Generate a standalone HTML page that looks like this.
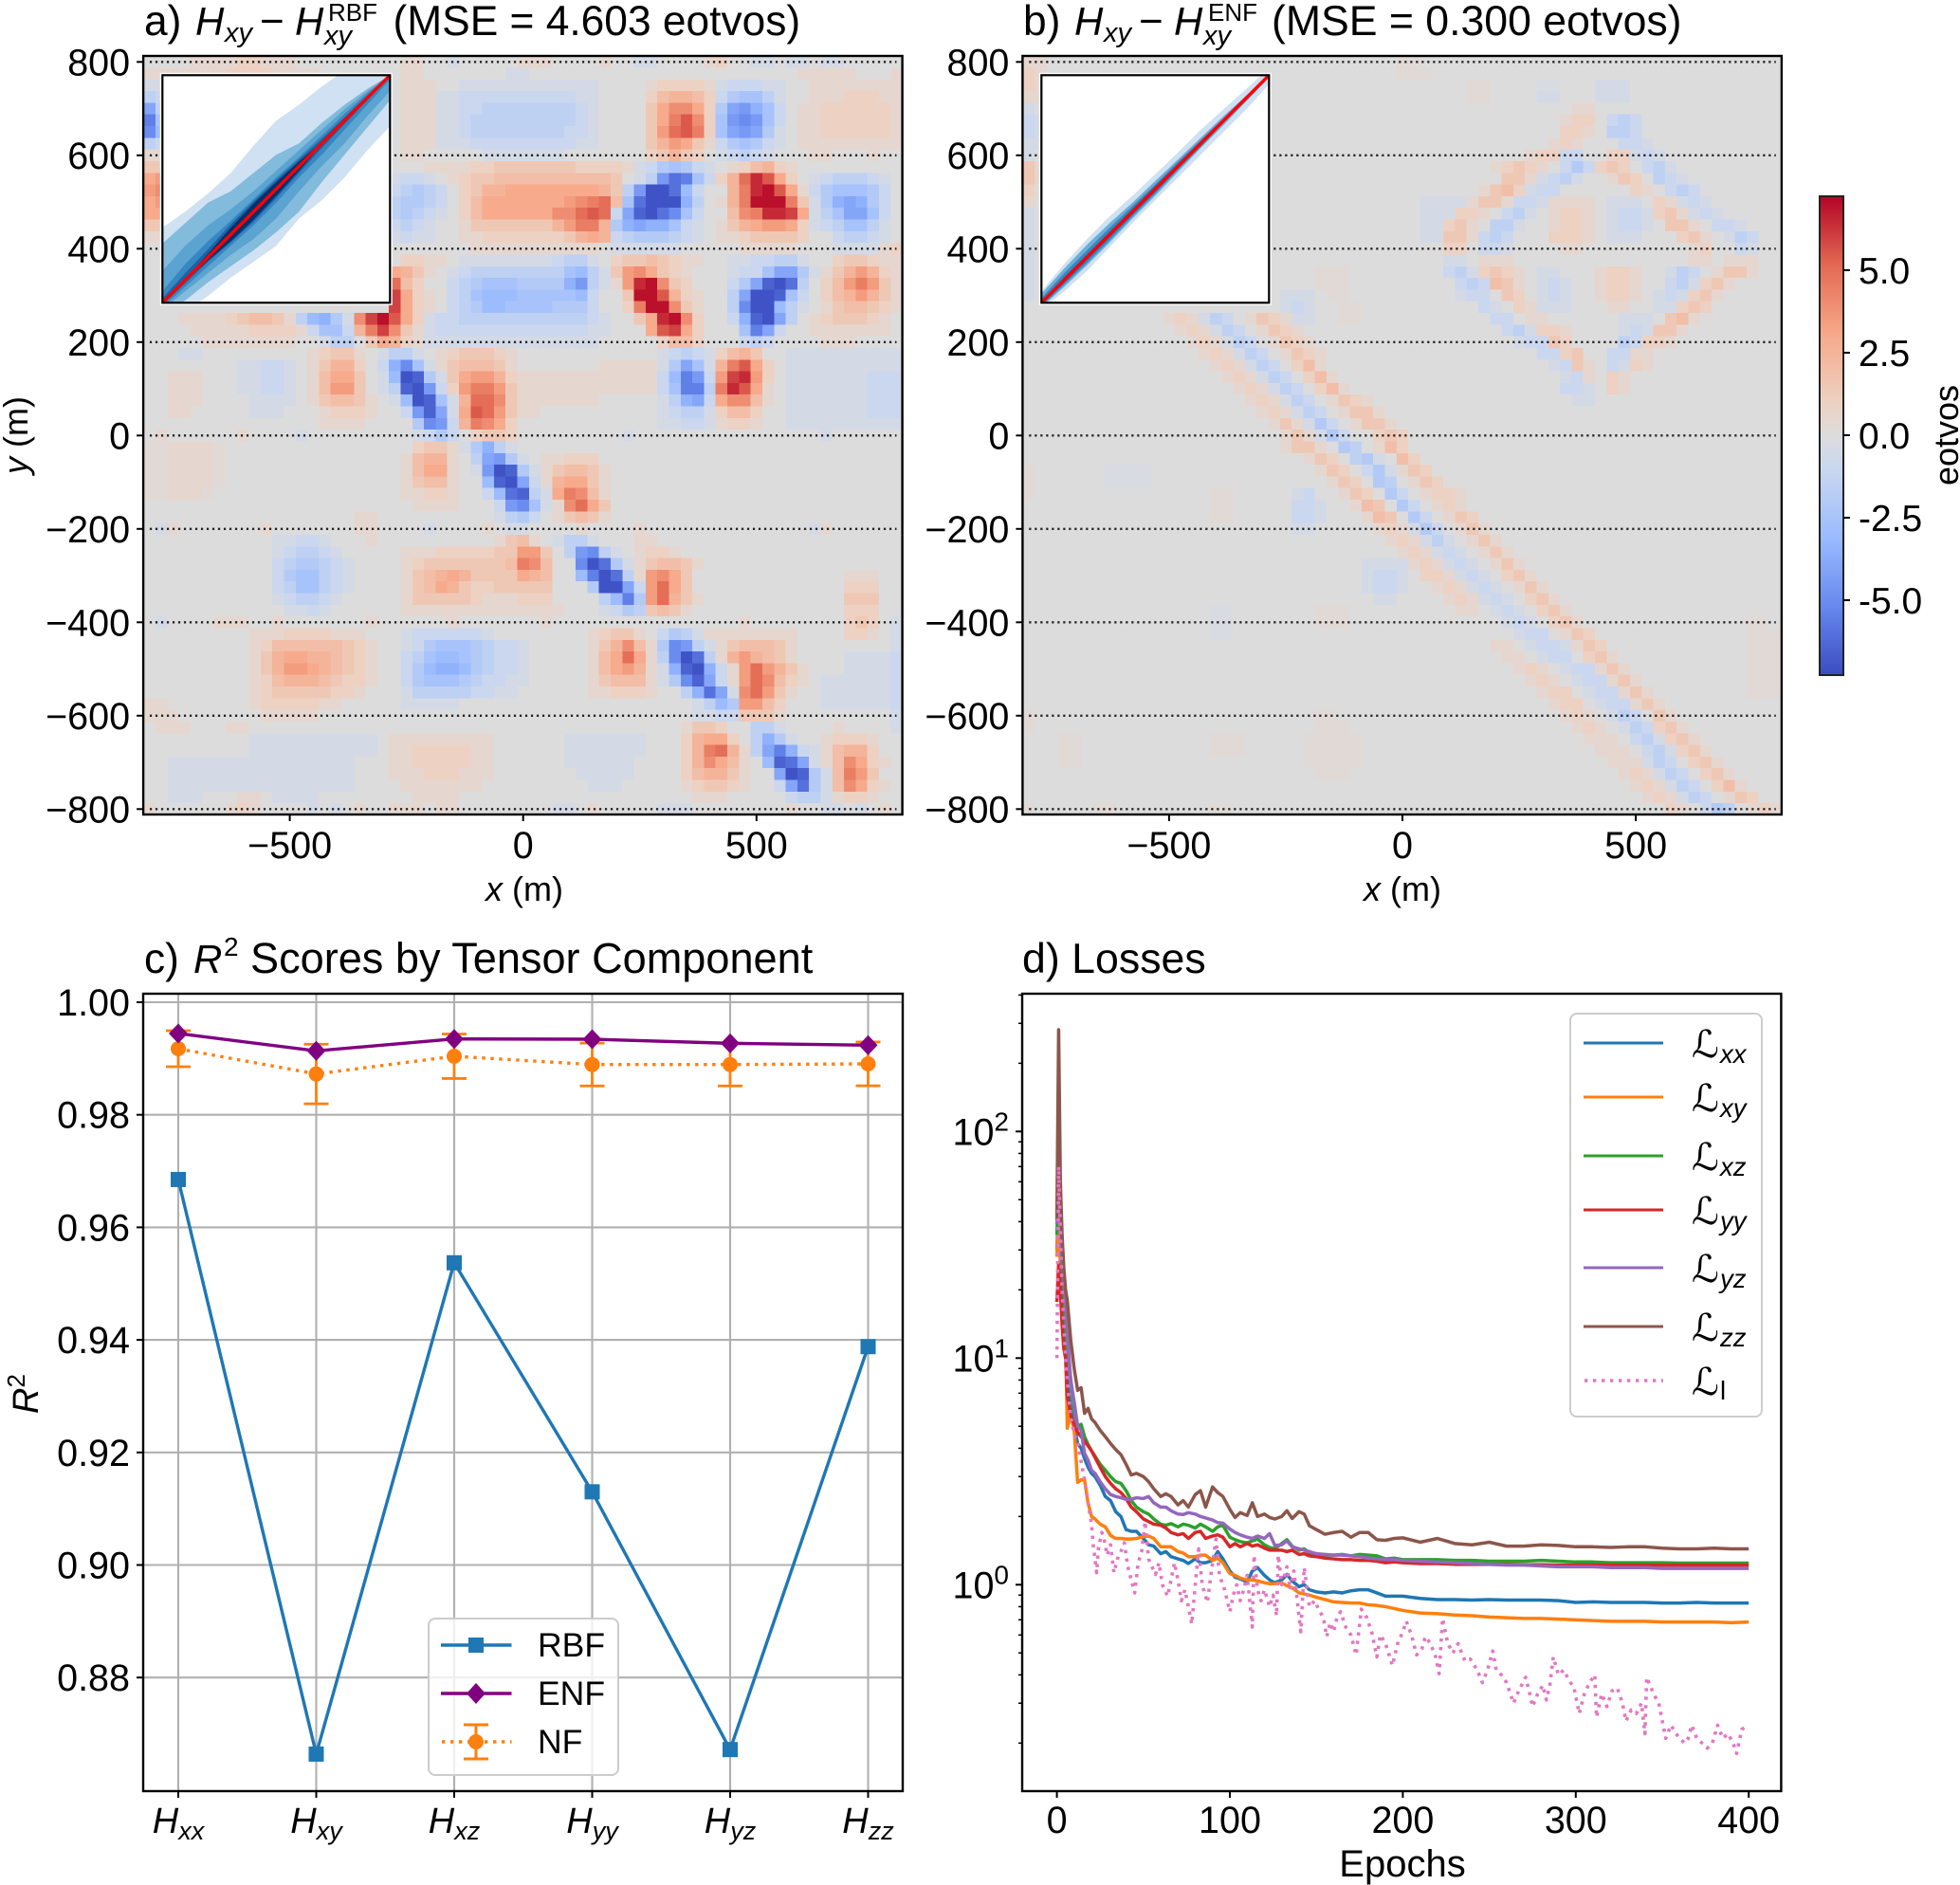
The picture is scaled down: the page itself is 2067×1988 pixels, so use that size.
<!DOCTYPE html>
<html lang="en">
<head>
<meta charset="utf-8">
<title>Gravity gradient field residuals and training losses</title>
<style>
html,body{margin:0;padding:0;background:#fff;}
svg{display:block;}
text{font-family:"Liberation Sans",sans-serif;fill:#000;}
.it{font-style:italic;}
.sc{font-family:"DejaVu Serif","DejaVu Sans",serif;font-style:italic;}
</style>
</head>
<body>
<svg id="figure" xmlns="http://www.w3.org/2000/svg" width="2067" height="1988" viewBox="0 0 2067 1988">
<defs>
<clipPath id="clip-d"><rect x="1078" y="1048" width="800" height="841"/></clipPath>
<clipPath id="clip-c"><rect x="151" y="1048" width="801" height="841"/></clipPath>
<linearGradient id="cb-gradient" x1="0" y1="0" x2="0" y2="1">
<stop offset="0" stop-color="#b40426"/><stop offset="0.143" stop-color="#e26952"/><stop offset="0.286" stop-color="#f7a889"/><stop offset="0.429" stop-color="#edd1c2"/><stop offset="0.5" stop-color="#dddcdc"/><stop offset="0.571" stop-color="#c9d7f0"/><stop offset="0.714" stop-color="#9abbff"/><stop offset="0.857" stop-color="#6788ee"/><stop offset="1" stop-color="#3b4cc0"/>
</linearGradient>
</defs>

<g id="panel-a"></g>
<g id="panel-b"></g>
<g id="panel-c"></g>
<g id="panel-d"></g>
<g id="colorbar">
<rect x="1919" y="207" width="25" height="505" fill="url(#cb-gradient)" stroke="#222" stroke-width="2"/>
<text transform="translate(2065,459) rotate(-90)" text-anchor="middle" font-size="36">eotvos</text>
</g>

<g>
<text x="152" y="37" font-size="44.3">a)</text>
<text class="it" x="206" y="37" font-size="42">H</text>
<text class="it" x="237" y="44" font-size="29">xy</text>
<text x="274" y="37" font-size="44">−</text>
<text class="it" x="311" y="37" font-size="42">H</text>
<text class="it" x="342" y="47" font-size="29">xy</text>
<text x="346" y="22" font-size="26">RBF</text>
<text x="414.5" y="37" font-size="44.3">(MSE = 4.603 eotvos)</text>
</g>
<g>
<text x="1079" y="37" font-size="44.3">b)</text>
<text class="it" x="1133" y="37" font-size="42">H</text>
<text class="it" x="1164" y="44" font-size="29">xy</text>
<text x="1201" y="37" font-size="44">−</text>
<text class="it" x="1238" y="37" font-size="42">H</text>
<text class="it" x="1269" y="47" font-size="29">xy</text>
<text x="1274" y="22" font-size="26">ENF</text>
<text x="1341" y="37" font-size="44.6">(MSE = 0.300 eotvos)</text>
</g>
<g>
<text x="152" y="1026" font-size="44.3">c)</text>
<text class="it" x="204" y="1026" font-size="42">R</text>
<text x="236" y="1008" font-size="28">2</text>
<text x="264" y="1026" font-size="45.1">Scores by Tensor Component</text>
</g>
<text x="1078" y="1026" font-size="44.7">d) Losses</text>

<g><text x="553" y="950" text-anchor="middle" font-size="36"><tspan class="it">x</tspan> (m)</text></g>
<g><text x="1479" y="950" text-anchor="middle" font-size="36"><tspan class="it">x</tspan> (m)</text></g>
<g><text transform="translate(29,459) rotate(-90)" text-anchor="middle" font-size="36"><tspan class="it">y</tspan> (m)</text></g>
<g><text transform="translate(40,1470) rotate(-90)" text-anchor="middle" font-size="38"><tspan class="it">R</tspan><tspan font-size="26" dy="-14">2</tspan></text></g>
<text x="1479" y="1979" text-anchor="middle" font-size="40">Epochs</text>

<g id="legend-c">
<rect x="452" y="1707" width="200" height="165" rx="7" fill="#fff" fill-opacity="0.8" stroke="#ccc" stroke-width="2"/>
<g>
<line x1="465" x2="539.5" y1="1735" y2="1735" stroke="#1f77b4" stroke-width="3.4"/>
<rect x="494" y="1727" width="16" height="16" fill="#1f77b4"/>
<text x="567" y="1747" font-size="35.5">RBF</text>
</g>
<g>
<line x1="465" x2="539.5" y1="1786" y2="1786" stroke="#800080" stroke-width="3.4"/>
<polygon points="502,1775 512,1786 502,1797 492,1786" fill="#800080"/>
<text x="567" y="1798" font-size="35.5">ENF</text>
</g>
<g>
<line x1="466" x2="539.5" y1="1837" y2="1837" stroke="#ff7f0e" stroke-width="3.4" stroke-dasharray="3.4 5.6"/>
<line x1="502" x2="502" y1="1819" y2="1855" stroke="#ff7f0e" stroke-width="3"/>
<line x1="489" x2="515" y1="1819" y2="1819" stroke="#ff7f0e" stroke-width="3"/>
<line x1="489" x2="515" y1="1855" y2="1855" stroke="#ff7f0e" stroke-width="3"/>
<circle cx="502" cy="1837" r="8" fill="#ff7f0e"/>
<text x="567" y="1849" font-size="35.5">NF</text>
</g>
</g>

<g id="legend-d">
<rect x="1656" y="1069" width="202" height="425" rx="7" fill="#fff" fill-opacity="0.8" stroke="#ccc" stroke-width="2"/>
<g><line x1="1670" x2="1754" y1="1100" y2="1100" stroke="#1f77b4" stroke-width="3"/><text class="sc" x="1784" y="1115" font-size="40">ℒ</text><text class="it" x="1814" y="1121" font-size="27.5">xx</text></g>
<g><line x1="1670" x2="1754" y1="1157" y2="1157" stroke="#ff7f0e" stroke-width="3"/><text class="sc" x="1784" y="1172" font-size="40">ℒ</text><text class="it" x="1814" y="1178" font-size="27.5">xy</text></g>
<g><line x1="1670" x2="1754" y1="1219" y2="1219" stroke="#2ca02c" stroke-width="3"/><text class="sc" x="1784" y="1234" font-size="40">ℒ</text><text class="it" x="1814" y="1240" font-size="27.5">xz</text></g>
<g><line x1="1670" x2="1754" y1="1276" y2="1276" stroke="#d62728" stroke-width="3"/><text class="sc" x="1784" y="1291" font-size="40">ℒ</text><text class="it" x="1814" y="1297" font-size="27.5">yy</text></g>
<g><line x1="1670" x2="1754" y1="1337" y2="1337" stroke="#9467bd" stroke-width="3"/><text class="sc" x="1784" y="1352" font-size="40">ℒ</text><text class="it" x="1814" y="1358" font-size="27.5">yz</text></g>
<g><line x1="1670" x2="1754" y1="1399" y2="1399" stroke="#8c564b" stroke-width="3"/><text class="sc" x="1784" y="1414" font-size="40">ℒ</text><text class="it" x="1814" y="1420" font-size="27.5">zz</text></g>
<g><line x1="1671" x2="1754" y1="1456" y2="1456" stroke="#e377c2" stroke-width="3.4" stroke-dasharray="3.4 5.6"/><text class="sc" x="1784" y="1471" font-size="40">ℒ</text><text x="1814" y="1476" font-size="27.5">l</text></g>
</g>
</svg>

<script>
// ---- Heatmap data, half-eotvos units, rows top (y=+800) to bottom (y=-800) ----
const heatUnit = 0.5;
const heatA = [
[0,0,0,0,1, 1,1,1,2,2, 1,1,1,0,0, 0,0,0,0,0, 0,0,1,1,0, 0,-1,0,0,0, 0,0,1,1,1, 0,0,0,0,1, 0,0,-1,-1,0, 0,0,0,1,2, 0,0,-1,-1,0, -1,-1,0,-1,-1, 0,0,0,0,0],
[1,1,1,1,1, 1,1,2,2,2, 2,1,1,1,1, 0,0,0,0,0, 0,0,1,1,0, 0,0,0,0,0, 0,-1,-1,0,0, 0,0,0,0,0, 0,0,0,0,0, 0,0,0,0,0, 0,0,0,0,0, 0,1,1,1,1, 1,0,0,0,1],
[-1,-1,0,0,0, 0,0,0,0,0, 0,0,0,0,0, 0,0,0,0,0, 0,0,1,1,1, 0,0,-1,-1,-1, -1,-1,-1,-1,-1, -1,-1,-1,-1,0, 0,0,0,1,2, 2,2,2,1,-1, -2,-2,-2,-1,-1, 0,0,1,1,1, 1,1,1,1,1],
[-3,-2,0,0,0, 0,0,0,0,0, 0,0,0,0,0, 0,0,0,0,0, 0,0,1,1,1, -1,-1,-2,-2,-2, -2,-2,-2,-2,-2, -2,-2,-1,-1,0, 0,0,0,2,4, 5,5,4,2,-2, -4,-5,-5,-3,-1, 0,0,1,1,1, 2,2,2,1,1],
[-8,-3,0,0,0, 0,0,0,0,0, 0,0,0,0,0, 0,0,0,0,0, 0,0,1,1,1, -1,-1,-2,-2,-3, -3,-3,-3,-3,-3, -3,-3,-2,-1,0, 0,0,0,3,6, 8,8,6,2,-4, -8,-9,-7,-5,-2, 0,1,1,2,2, 2,2,2,2,1],
[-11,-5,0,0,0, 0,0,0,0,0, 0,0,0,0,0, 0,0,0,0,0, 0,0,1,1,1, -1,-1,-2,-3,-3, -3,-3,-3,-3,-3, -3,-3,-2,-1,0, 0,0,0,3,6, 9,11,8,2,-5, -9,-10,-9,-5,-2, 0,1,1,2,2, 2,2,2,2,1],
[-10,-6,0,0,0, 0,0,0,0,0, 0,0,0,0,0, 0,0,0,0,0, 0,0,1,1,1, -1,-1,-2,-3,-3, -3,-3,-3,-3,-3, -3,-2,-2,-1,0, 0,0,0,3,7, 10,11,9,2,-5, -8,-9,-8,-4,-1, 0,1,1,2,2, 2,2,2,2,1],
[-3,-2,0,0,0, 0,0,0,0,0, 0,0,0,0,0, 0,0,0,0,0, 0,0,1,1,1, -1,-1,-1,-2,-2, -2,-2,-2,-2,-2, -2,-2,-1,-1,0, 0,0,0,3,5, 7,6,3,1,-2, -4,-5,-4,-2,-1, 0,1,1,1,1, 1,1,1,1,1],
[1,1,0,0,0, 0,0,0,0,0, 0,0,0,0,0, 0,0,0,0,0, 0,0,1,1,0, 0,0,0,0,-1, -1,-1,-1,-1,-1, -1,0,0,0,0, 0,0,0,2,3, 5,3,2,0,-1, -2,-3,-2,-1,0, 0,0,1,1,0, 0,0,1,0,0],
[3,3,0,0,0, 0,0,0,0,0, 0,0,0,0,0, 0,0,0,0,0, 0,0,0,0,1, 1,1,1,2,2, 3,3,3,3,3, 3,3,2,2,2, 2,1,-1,-2,-4, -5,-4,-2,-1,0, 1,2,4,5,2, 1,0,0,0,0, 0,0,0,0,0],
[6,7,0,0,0, 0,0,0,0,0, 0,0,0,0,0, 0,0,0,0,0, 0,-1,-2,-2,-1, 0,1,2,3,3, 4,4,4,4,4, 4,4,4,4,4, 3,0,-1,-3,-9, -12,-11,-5,-2,2, 5,10,13,11,6, 2,0,-1,-2,-3, -3,-3,-2,-1,0],
[7,8,0,0,0, 0,0,0,0,0, 0,0,0,0,0, 0,0,0,0,0, 0,-2,-3,-4,-3, -2,0,2,3,5, 5,6,6,6,6, 6,6,6,6,5, 3,-3,-9,-14,-14, -12,-6,-2,0,0, 5,9,13,14,11, 6,1,-2,-4,-5, -5,-5,-4,-2,0],
[6,7,0,0,0, 0,0,0,0,0, 0,0,0,0,0, 0,0,0,0,0, 0,-3,-4,-4,-3, -2,0,2,4,6, 6,6,6,6,6, 6,7,8,9,10, 4,-5,-12,-14,-14, -14,-7,-3,0,1, 5,9,14,14,14, 9,3,-1,-4,-7, -8,-7,-4,-2,0],
[6,6,0,0,0, 0,0,0,0,0, 0,0,0,0,0, 0,0,0,0,0, 0,-3,-4,-3,-2, -1,0,2,4,6, 6,6,6,6,6, 8,8,10,11,10, -2,-8,-13,-14,-12, -10,-5,-2,0,0, 4,8,9,13,13, 12,6,-1,-3,-5, -8,-8,-5,-2,0],
[3,3,0,0,0, 0,0,0,0,0, 0,0,0,0,0, 0,0,0,0,0, 0,-2,-3,-2,-1, 0,0,1,3,3, 3,3,3,3,3, 5,7,9,9,5, -4,-7,-8,-7,-7, -5,-2,-1,0,1, 3,5,6,7,7, 6,2,-1,-2,-3, -5,-5,-3,-1,0],
[1,1,0,0,0, 0,0,0,0,0, 0,0,0,0,0, 0,0,0,0,0, 0,-1,-2,-1,-1, 0,0,1,1,2, 2,2,2,2,2, 2,3,5,6,5, -2,-3,-4,-4,-4, -3,-2,-1,0,1, 1,2,3,3,3, 3,2,0,0,-2, -3,-3,-2,-1,0],
[0,0,0,0,0, 0,0,0,0,0, 0,0,0,0,0, 0,0,0,0,0, 0,0,0,0,0, 0,0,0,1,1, 1,1,1,1,1, 1,1,1,1,0, -1,-1,-1,-1,-1, -1,0,0,0,0, 0,1,1,1,1, 1,0,0,0,-1, -1,-1,-1,1,2],
[0,0,0,0,0, 0,0,0,0,0, 0,0,0,0,0, 0,0,0,0,0, 0,0,2,2,1, 1,0,-1,-1,-1, -1,-1,-1,-1,-1, -2,-3,-3,-1,0, 2,3,3,4,3, 2,1,1,0,0, -1,-1,-2,-2,-3, -3,-1,0,0,2, 3,3,2,1,1],
[0,0,0,0,0, 0,0,0,0,0, 0,0,0,0,0, 0,0,0,0,0, 0,6,5,3,1, 0,-1,-2,-3,-3, -3,-3,-3,-3,-3, -3,-5,-6,-3,-1, 3,7,8,6,3, 2,1,0,0,0, -1,-2,-2,-5,-8, -8,-4,-1,1,3, 5,7,5,2,1],
[0,0,0,0,0, 0,0,0,0,0, 0,0,0,0,0, 0,0,0,0,0, 0,10,4,2,0, 0,-2,-3,-4,-5, -5,-5,-4,-4,-4, -4,-7,-9,-3,-1, 1,7,13,14,8, 3,2,0,0,0, -2,-4,-8,-13,-14, -12,-3,0,2,4, 7,9,7,3,1],
[0,0,0,0,0, 0,0,0,0,0, 0,0,0,0,0, 0,0,0,0,0, 0,12,6,2,1, 0,-2,-3,-5,-6, -6,-6,-5,-5,-5, -5,-5,-6,-2,0, 0,3,14,14,11, 5,2,1,0,0, -3,-8,-14,-14,-13, -5,-2,0,2,4, 5,7,5,3,1],
[0,0,0,0,0, 0,0,0,0,0, 0,0,0,0,0, 0,0,0,0,0, 0,12,6,2,1, 0,-2,-3,-4,-6, -6,-5,-5,-5,-5, -4,-4,-4,-2,0, 0,2,9,14,14, 8,3,1,0,0, -3,-10,-14,-14,-6, -3,-1,0,1,3, 4,4,3,2,1],
[0,0,0,1,1, 1,1,2,3,4, 4,3,1,-3,-6, -7,-4,-1,8,12, 14,11,6,2,-1, -2,-2,-3,-3,-3, -3,-3,-3,-3,-3, -3,-3,-3,-2,-1, 0,0,3,6,13, 14,8,2,0,0, -2,-7,-13,-14,-8, -3,0,1,2,3, 3,3,2,1,0],
[0,0,0,0,1, 1,1,1,1,2, 2,2,2,1,-2, -5,-5,-2,5,9, 12,8,3,1,-1, -2,-2,-2,-2,-2, -2,-2,-2,-2,-2, -2,-2,-2,-1,-1, 0,0,0,6,11, 12,6,2,0,0, 0,-5,-11,-8,-2, 0,0,1,1,1, 1,1,1,1,0],
[0,0,0,0,0, 1,1,1,1,1, 1,1,1,0,0, -1,-3,-3,0,3, 6,5,2,1,-1, -1,-1,-1,-1,-1, -1,-1,-1,-1,-1, -1,-1,-1,-1,0, 0,0,0,0,2, 4,4,2,0,0, 0,-2,-3,-2,0, 0,0,0,1,1, 1,0,0,0,0],
[0,0,0,-1,-1, 0,0,0,0,0, 0,0,0,0,1, 2,3,3,1,0, -1,-3,-3,-1,0, 1,2,3,3,3, 2,1,0,0,0, 0,0,0,0,0, 0,0,0,0,-1, -2,-3,-2,-1,2, 4,5,3,0,0, -1,-1,-1,-1,-1, -1,-1,-1,-1,-1],
[0,0,0,0,0, 0,0,0,-1,-1, -2,-2,-1,0,1, 3,5,5,2,0, -2,-7,-10,-5,-1, 1,3,4,4,4, 3,1,0,0,0, 0,0,0,0,1, 1,1,1,1,-1, -4,-8,-5,-1,5, 9,11,6,2,0, -1,-1,-1,-1,-1, -1,-1,-1,-1,-1],
[0,0,1,1,1, 0,0,0,-1,-1, -2,-2,-1,0,1, 4,6,6,3,0, -1,-6,-14,-13,-4, -1,3,6,7,7, 5,2,1,1,1, 1,1,1,1,1, 1,1,1,1,-2, -6,-11,-9,-2,7, 12,13,7,2,0, -1,-1,-1,-1,-1, -1,-1,-2,-2,-2],
[0,0,1,1,1, 0,0,0,-1,-1, -2,-2,-1,0,1, 4,7,7,3,0, -1,-3,-13,-14,-9, -2,2,7,9,9, 7,3,1,1,1, 1,1,1,1,1, 1,1,1,1,-2, -5,-11,-11,-3,9, 13,11,6,1,0, -1,-1,-1,-1,-1, -1,-1,-2,-2,-2],
[0,0,1,1,1, 0,0,0,0,-1, -1,-1,-1,0,1, 3,4,4,3,1, 0,-1,-6,-14,-13, -5,-1,5,10,10, 8,3,1,1,1, 1,1,1,1,0, 0,0,0,0,-1, -3,-7,-8,-2,6, 8,8,4,1,0, -1,-1,-1,-1,-1, -1,-1,-2,-2,-2],
[0,0,1,1,0, 0,0,0,0,-1, -1,-1,0,0,0, 1,2,2,2,1, 0,0,-2,-9,-13, -8,-1,6,11,10, 7,3,1,1,0, 0,0,0,0,0, 0,0,0,0,-1, -2,-3,-3,-1,2, 4,4,2,0,0, -1,-1,-1,-1,-1, -1,-1,-2,-2,-2],
[0,0,0,0,0, 0,0,0,0,0, 0,0,0,0,0, 1,1,1,1,0, 0,0,0,-4,-10, -9,-2,5,9,8, 6,2,0,0,0, 0,0,0,0,0, 0,0,0,0,-1, -1,-2,-2,-1,1, 2,2,1,0,0, -1,-1,-1,-1,-1, -1,-1,-1,-1,-1],
[0,1,0,0,0, 0,0,0,1,0, 0,0,0,-1,0, 0,0,0,0,0, 0,0,0,-1,-2, -4,-2,0,2,3, 3,2,0,0,0, 0,0,0,0,0, 0,-1,0,0,0, 0,0,0,0,0, 0,0,0,0,0, 0,0,0,-1,0, 0,0,0,0,0],
[.5,.5,1,1,1, 1,.5,0,0,0, 0,0,0,0,0, 0,0,0,0,0, 0,0,0,2,3, 3,1,-1,-4,-7, -3,-1,0,0,0, 0,0,0,0,0, 0,0,0,0,0, 0,0,0,0,0, 0,0,0,0,0, 0,0,0,0,0, 0,0,0,0,0],
[.5,.5,1,1,1, 1,.5,0,0,0, 0,0,0,0,0, 0,0,0,0,0, 0,0,1,4,5, 5,1,0,-3,-8, -9,-4,-1,0,1, 1,2,2,2,0, 0,0,0,0,0, 0,0,0,0,0, 0,0,0,0,0, 0,0,0,0,0, 0,0,0,0,0],
[.5,.5,1,1,1, 1,.5,0,0,0, 0,0,0,0,0, 0,0,0,0,0, 0,0,1,4,6, 6,1,0,-1,-9, -14,-13,-4,-1,1, 3,4,4,3,1, 0,0,0,0,0, 0,0,0,0,0, 0,0,0,0,0, 0,0,0,0,0, 0,0,0,0,0],
[.5,.5,1,1,1, 1,.5,0,0,0, 0,0,0,0,0, 0,0,0,0,0, 0,0,1,3,4, 4,1,0,0,-6, -13,-14,-8,-2,1, 5,6,6,3,1, 0,0,0,0,0, 0,0,0,0,0, 0,0,0,0,0, 0,0,0,0,0, 0,0,0,0,0],
[.5,.5,1,1,1, .5,0,0,0,0, 0,0,0,0,0, 0,0,0,0,0, 0,0,1,1,2, 2,1,0,0,-2, -6,-12,-13,-3,-1, 6,9,8,4,1, 0,0,0,0,0, 0,0,0,0,0, 0,0,0,0,0, 0,0,0,0,0, 0,0,0,0,0],
[0,0,0,0,0, 0,0,0,0,0, 0,0,0,0,0, 0,0,0,0,0, 0,0,0,1,1, 1,1,0,0,0, -2,-9,-10,-5,-1, 1,8,10,6,3, 0,0,0,0,0, 0,0,0,0,0, 0,0,0,0,0, 0,0,0,0,0, 0,0,0,0,0],
[0,0,0,0,0, 0,0,0,0,0, 0,0,0,0,0, 0,0,0,1,1, 0,0,0,0,0, 0,0,0,0,0, -1,-3,-4,-2,0, 1,3,4,3,1, 0,0,0,0,0, 0,0,0,0,0, 0,0,0,0,0, 0,0,0,0,0, 0,0,0,0,0],
[0,-1,1,0,0, 0,0,0,0,0, 1,0,0,0,0, 0,0,0,1,1, 0,0,0,0,-1, 0,0,0,0,1, 0,-1,-1,0,0, 0,0,1,0,0, 0,0,1,0,0, 0,0,0,0,0, 0,0,0,0,0, 0,0,-1,1,0, 0,0,0,0,0],
[0,0,0,0,0, 0,0,0,0,0, 0,-1,-1,-2,-2, -1,0,0,0,1, 0,0,0,0,0, 0,0,0,0,0, 1,3,4,1,0, -1,-3,-3,-1,0, 0,0,1,1,0, 0,0,0,0,0, 0,0,0,0,0, 0,0,0,0,0, 0,0,0,0,0],
[0,0,0,0,0, 0,0,0,0,0, 0,-1,-2,-3,-3, -2,-1,0,0,0, 0,0,1,1,1, 2,2,2,2,2, 3,3,7,7,3, 0,-3,-9,-10,-3, -1,0,1,2,2, 1,0,0,0,0, 0,0,0,0,0, 0,0,0,0,0, 0,0,0,0,0],
[0,0,0,0,0, 0,0,0,0,0, 0,-2,-3,-4,-4, -3,-2,-1,0,0, 0,0,1,2,3, 3,3,3,3,3, 3,4,9,8,4, 0,0,-10,-14,-12, -4,-1,1,3,4, 4,3,1,0,0, 0,0,0,0,0, 0,0,0,0,0, 0,0,0,0,0],
[0,0,0,0,0, 0,0,0,0,0, 0,-2,-4,-5,-5, -3,-2,-1,0,0, 0,0,1,3,4, 5,6,5,3,3, 3,3,6,5,4, 0,0,-6,-11,-14, -12,-3,1,7,8, 6,3,0,0,0, 0,0,0,0,0, 0,0,0,0,0, 1,1,1,0,0],
[0,0,0,0,0, 0,0,0,0,0, 0,-2,-3,-5,-5, -3,-2,-1,0,0, 0,0,1,3,4, 6,5,3,2,2, 3,3,3,3,3, 0,0,0,-4,-14, -14,-8,-2,7,10, 6,3,0,0,0, 0,0,0,0,0, 0,0,0,0,0, 2,2,2,0,0],
[0,0,0,0,0, 0,0,0,0,0, 0,-1,-2,-3,-3, -2,-1,0,0,0, 0,0,1,3,3, 3,3,3,2,1, 1,1,2,2,2, 0,0,0,0,-3, -6,-11,-4,7,10, 5,3,1,0,0, 0,0,0,0,0, 0,0,0,0,0, 3,3,3,0,0],
[0,0,0,0,0, 0,0,0,0,0, 0,0,-1,-1,-2, -1,0,0,0,0, 0,0,1,1,1, 1,1,1,1,1, 1,1,1,1,1, 1,0,0,0,-1, -2,-4,-3,3,4, 3,1,0,0,0, 0,0,0,0,0, 0,0,0,0,0, 2,2,2,0,0],
[0,-1,0,0,0, 0,1,1,1,0, 0,1,0,0,0, 0,0,0,0,1, 0,0,0,0,0, 0,1,0,0,0, 0,0,0,0,1, 0,0,0,0,0, 0,0,0,0,0, 0,0,0,0,0, 0,1,0,0,0, 0,0,0,0,0, 2,3,2,0,-1],
[0,0,0,0,0, 0,0,0,0,1, 1,1,2,2,2, 2,1,1,1,0, 0,0,-1,-2,-2, -2,-2,-2,-2,-1, 0,0,0,0,0, 0,0,0,1,2, 3,3,1,0,-2, -4,-3,-1,1,1, 1,1,1,1,1, 1,0,0,0,0, 2,2,1,0,-1],
[0,0,0,0,0, 0,0,0,0,1, 2,4,4,4,4, 4,4,3,2,1, 0,0,-1,-2,-4, -5,-5,-5,-4,-3, -2,-2,-1,0,0, 0,0,0,1,3, 5,8,4,1,-4, -10,-9,-3,-1,1, 3,4,4,4,3, 1,0,0,0,0, 0,0,0,0,-1],
[0,0,0,0,0, 0,0,0,0,1, 3,5,6,6,5, 5,4,3,2,1, 0,0,-2,-3,-5, -6,-6,-5,-4,-3, -2,-2,-1,0,0, 0,0,0,1,4, 6,10,6,1,-3, -10,-14,-12,-3,1, 5,7,5,4,3, 1,0,0,0,0, -1,-1,-1,-1,-2],
[0,0,0,0,0, 0,0,0,0,1, 3,5,7,7,6, 5,4,3,2,1, 0,0,-2,-4,-6, -7,-7,-6,-4,-3, -2,-2,-1,0,0, 0,0,0,1,4, 6,7,5,1,-1, -7,-13,-14,-7,-2, 1,7,10,7,5, 3,1,0,0,0, -1,-1,-1,-1,-2],
[0,0,0,0,0, 0,0,0,0,1, 2,4,5,5,5, 4,3,2,2,1, 0,0,-2,-4,-5, -5,-5,-4,-3,-2, -2,-1,-1,0,0, 0,0,0,1,3, 4,4,4,1,-1, -4,-10,-13,-8,-2, 1,7,10,8,4, 2,1,0,-1,-1, -1,-1,-1,-1,-2],
[0,0,0,0,0, 0,0,0,0,1, 2,3,3,3,3, 3,2,2,1,0, 0,0,-1,-3,-3, -3,-3,-3,-2,-2, -1,-1,0,0,0, 0,0,0,1,1, 2,2,2,1,0, 0,-3,-7,-12,-8, -1,8,10,7,3, 1,0,0,-1,-1, -1,-1,-1,-1,-2],
[1,1,0,0,0, 0,0,0,0,1, 2,2,2,2,2, 1,1,0,0,0, 0,0,-1,-1,-1, -1,-1,0,0,0, 0,0,0,0,0, 0,0,0,0,0, 0,0,0,0,0, 0,0,-1,-3,-6, -4,7,7,4,2, 0,0,0,-1,-1, -1,-1,-1,-1,-2],
[1,1,1,0,0, 0,0,0,0,0, 1,1,1,1,1, 0,0,0,0,0, 0,0,0,0,0, 0,0,0,0,0, 0,0,0,0,0, 0,0,0,0,0, 0,0,0,0,0, 0,0,-1,-1,-2, -2,3,3,3,1, 0,0,0,0,0, 0,0,0,0,-1],
[0,1,1,1,0, 0,0,1,1,0, 0,0,0,0,0, 0,0,0,0,0, 0,0,0,0,0, 0,0,0,0,0, 0,0,0,0,0, 0,0,0,0,0, 0,0,0,0,0, 0,1,3,3,2, 0,0,-3,-3,-1, 0,0,0,0,1, 0,0,0,0,-1],
[0,0,0,0,0, 0,0,0,0,-1, -1,-1,-1,-1,-1, -1,-1,-1,-1,-1, 0,1,1,1,1, 1,1,1,1,1, 0,0,0,0,0, 0,-1,-1,-1,-1, -1,-1,-1,0,0, 0,2,5,6,6, 2,0,-3,-7,-4, -1,0,0,1,2, 2,2,1,0,0],
[0,0,0,0,0, 0,0,0,0,-1, -1,-1,-1,-1,-1, -1,-1,-1,-1,-1, 0,1,1,2,2, 2,2,2,1,1, 0,0,0,0,0, 0,-1,-1,-1,-1, -1,-1,-1,0,0, 0,2,5,9,10, 5,1,-3,-8,-11, -7,-2,-1,1,4, 5,5,2,0,0],
[0,0,-1,-1,-1, -1,-1,-1,-1,-1, -1,-1,-1,-1,-1, -1,-1,-1,0,0, 0,1,1,2,2, 2,2,2,1,1, 0,0,0,0,0, 0,-1,-1,-1,-1, -1,-1,0,0,0, 0,2,5,8,6, 4,1,0,-6,-13, -12,-8,-1,1,4, 8,6,2,1,0],
[0,0,-1,-1,-1, -1,-1,-1,-1,-1, -1,-1,-1,-1,-1, -1,-1,-1,0,0, 0,1,1,1,2, 2,2,1,1,1, 0,0,0,0,0, 0,0,-1,-1,-1, -1,-1,0,0,0, 0,2,4,5,5, 3,1,0,0,-8, -14,-13,-4,-1,4, 9,7,3,0,0],
[0,0,-1,-1,-1, -1,-1,-1,-1,-1, -1,-1,-1,-1,-1, -1,-1,-1,0,0, 0,0,1,1,1, 1,1,1,1,0, 0,0,0,0,0, 0,0,0,-1,-1, -1,0,0,0,0, 0,1,2,3,3, 2,1,0,0,-2, -8,-12,-4,-1,4, 8,6,2,1,0],
[0,0,-1,-1,-1, 0,0,0,1,1, 0,-1,-1,-1,-1, 0,0,0,0,0, 0,0,0,1,1, 1,1,0,0,0, 0,0,0,0,0, 0,0,0,0,0, 0,0,0,0,0, 0,0,1,1,1, 0,0,0,0,0, -2,-3,-3,-1,1, 2,2,1,0,0],
[1,0,0,0,0, 0,0,1,2,1, 0,0,0,0,-1, 0,-1,0,1,0, 0,1,1,1,0, 1,1,0,0,0, 0,0,0,0,0, -1,-1,0,1,0, 0,0,0,0,-1, -1,-1,0,0,0, 0,0,0,0,0, 1,0,0,-1,-1, 0,-1,0,1,0]
];
const heatB = [
[1,1,0,0,0, 0,0,0,0,0, 0,0,0,0,0, 0,0,0,0,0, 0,0,0,0,0, 0,0,0,0,0, 0,0,.5,.5,0, 0,0,0,0,0, 0,0,0,0,0, 0,0,0,0,0, 0,0,0,0,0, 0,0,0,0,0, 0,0,0,0,0],
[2,1,0,0,0, 0,0,0,0,0, 0,0,0,0,0, 0,0,0,0,0, 0,0,0,0,0, 0,0,0,0,0, 0,0,.5,.5,.5, 0,0,0,0,0, 0,0,0,0,0, 0,0,0,0,0, 0,0,0,0,0, 0,0,0,0,0, 0,0,0,0,0],
[2,1,0,0,0, 0,0,0,0,0, 0,0,0,0,0, 0,0,0,0,0, 0,0,0,0,0, 0,0,0,0,0, 0,0,0,0,0, 0,0,0,.5,.5, 0,0,0,0,-.5, -.5,0,0,0,-1, -1,-1,0,0,0, 0,0,0,0,0, 0,0,0,0,0],
[1,1,0,0,0, 0,0,0,0,0, 0,0,0,0,0, 0,0,0,0,0, 0,0,0,0,0, 0,0,0,0,0, 0,0,0,0,0, 0,0,0,.5,.5, 0,0,0,0,-1, -1,0,0,0,-1, -1,-1,0,0,0, 0,0,0,0,0, 0,0,0,0,0],
[-1,0,0,0,0, 0,0,0,0,0, 0,0,0,0,0, 0,0,0,0,0, 0,0,0,0,0, 0,0,0,0,0, 0,0,0,0,0, 0,0,0,0,0, 0,0,0,0,0, 0,0,1,1,0, 0,0,0,0,0, 0,0,0,0,0, 0,0,0,0,0],
[-2,-1,0,0,0, 0,0,0,0,0, 0,0,0,0,0, 0,0,0,0,0, 0,0,0,0,0, 0,0,0,0,0, 0,0,0,0,0, 0,0,0,0,0, 0,0,0,0,0, 0,1,2,2,0, -2,-3,-2,0,0, 0,0,0,0,0, 0,0,0,0,0],
[-2,-1,0,0,0, 0,0,0,0,0, 0,0,0,0,0, 0,0,0,0,0, 0,0,0,0,0, 0,0,0,0,0, 0,0,0,0,0, 0,0,0,0,0, 0,0,0,0,0, 0,2,2,1,0, -3,-3,-2,0,0, 0,0,0,0,0, 0,0,0,0,0],
[-1,-1,0,0,0, 0,0,0,0,0, 0,0,0,0,0, 0,0,0,0,0, 0,0,0,0,0, 0,0,0,0,0, 0,0,0,0,0, 0,0,0,0,0, 0,0,0,0,0, 1,2,1,0,0, 0,-2,-2,-1,0, 0,0,0,0,0, 0,0,0,0,0],
[-1,0,0,0,0, 0,0,0,0,0, 0,0,0,0,0, 0,0,0,0,0, 0,0,0,0,0, 0,0,0,0,0, 0,0,0,0,0, 0,0,0,0,0, 0,0,0,1,2, 2,-2,-2,0,0, 2,2,-1,-2,-1, 0,0,0,0,0, 0,0,0,0,0],
[3,1,0,0,0, 0,0,0,0,0, 0,0,0,0,0, 0,0,0,0,0, 0,0,0,0,0, 0,0,0,0,0, 0,0,0,0,0, 0,0,0,0,0, 1,2,3,2,1, 0,-2,-4,-2,2, 3,2,0,-2,-3, -1,0,0,0,0, 0,0,0,0,0],
[3,1,0,0,0, 0,0,0,0,0, 0,0,0,0,0, 0,0,0,0,0, 0,0,0,0,0, 0,0,0,0,0, 0,0,0,0,0, 0,0,0,0,0, 0,3,3,1,-1, -2,-3,-1,0,0, 1,3,2,0,-3, -2,-1,0,0,0, 0,0,0,0,0],
[2,0,0,0,0, 0,0,0,0,0, 0,0,0,0,0, 0,0,0,0,0, 0,0,0,0,0, 0,0,0,0,0, 0,0,0,0,0, 0,0,0,0,1, 3,4,2,-1,-2, -2,0,0,0,0, 0,0,2,1,0, -2,-3,-2,0,0, 0,0,0,0,0],
[1,0,0,0,0, 0,0,0,0,0, 0,0,0,0,0, 0,0,0,0,0, 0,0,0,0,0, 0,0,0,0,0, 0,0,0,0,-1, -1,-1,-1,1,3, 3,1,-2,-2,-1, 1,1,1,1,0, -1,-1,-1,0,2, 1,-1,-2,-1,0, 0,0,0,0,0],
[-1,0,0,0,0, 0,0,0,0,0, 0,0,0,0,0, 0,0,0,0,0, 0,0,0,0,0, 0,0,0,0,0, 0,0,0,0,-1, -1,-1,2,2,1, 0,-2,-3,-1,0, 1,2,2,1,0, -1,-2,-2,-1,2, 3,1,-1,-2,-1, 0,0,0,0,0],
[-1,0,0,0,0, 0,0,0,0,0, 0,0,0,0,0, 0,0,0,0,0, 0,0,0,0,0, 0,0,0,0,0, 0,0,0,0,-1, -1,2,3,1,0, -3,-3,-1,0,0, 1,2,2,1,0, -1,-2,-2,-1,0, 3,3,1,0,-2, -2,-1,0,0,0],
[-1,0,0,0,0, 0,0,0,0,0, 0,0,0,0,0, 0,0,0,0,0, 0,0,0,0,0, 0,0,0,0,0, 0,0,0,0,-1, -1,3,3,1,-2, -3,-2,0,0,0, 2,2,2,1,0, -1,-1,-1,0,0, 0,2,3,1,0, -1,-3,-2,0,0],
[-1,0,0,0,0, 0,0,0,0,0, 0,0,0,0,0, 0,0,0,0,0, 0,0,0,0,0, 0,0,0,0,0, 0,0,0,0,0, 0,2,2,0,-2, -2,-1,0,0,0, 0,1,1,0,0, 0,0,0,0,0, 0,0,1,2,0, 0,-2,-1,0,0],
[-1,0,0,0,0, 0,0,0,0,0, 0,0,0,0,0, 0,0,0,0,0, 0,0,0,0,0, 0,0,0,0,0, 0,0,0,0,0, 0,-1,-1,0,1, 1,1,0,0,0, 0,0,0,0,0, 0,0,0,0,0, 0,0,1,1,0, 1,1,1,0,0],
[-1,0,0,0,0, 0,0,0,0,0, 0,0,0,0,0, 0,0,0,0,0, 0,0,0,0,0, .5,.5,.5,0,0, 0,0,0,0,0, 0,-2,-3,-1,2, 3,2,1,0,-1, -1,0,0,0,1, 2,2,1,0,0, -1,-3,-2,0,1, 3,3,1,0,0],
[-1,0,0,0,0, 0,0,0,0,0, 0,0,0,0,0, 0,0,0,0,0, 0,0,0,0,0, .5,.5,.5,0,0, 0,0,0,0,0, 0,0,-2,-3,-2, 4,3,1,0,-1, -2,-1,0,0,1, 2,2,1,0,0, -2,-3,-1,2,3, 1,0,0,0,0],
[-1,0,0,0,0, 0,0,0,0,0, 0,0,0,0,0, 0,0,0,0,0, 0,0,-1,-1,-1, 0,.5,.5,0,0, 0,0,0,0,0, 0,0,-1,-2,-2, 0,3,2,0,-1, -2,-1,0,0,1, 2,2,1,0,-1, -2,-1,2,3,1, 0,0,0,0,0],
[0,0,0,0,0, 0,0,0,0,0, 0,0,0,0,0, 0,0,0,0,0, 0,0,-1,-2,-1, 0,0,.5,.5,0, 0,0,0,0,0, 0,0,0,0,-2, -1,0,2,1,-1, -1,-1,0,0,0, 1,1,0,0,-1, -1,2,3,2,0, 0,0,0,0,0],
[0,0,0,0,0, 0,0,0,0,0, 0,0,1,2,1, -1,-3,-2,0,1, 3,2,1,-1,-1, 0,0,.5,.5,0, 0,0,0,0,0, 0,0,0,0,0, -2,-2,0,1,1, 0,0,0,0,0, 0,-1,-1,-1,0, 3,4,1,0,0, 0,0,0,0,0],
[0,0,0,0,0, 0,0,0,0,0, 0,0,0,1,2, 1,-1,-3,-2,0, 1,3,2,1,0, 0,0,0,0,0, 0,0,0,0,0, 0,0,0,0,0, 0,-2,-3,-1,2, 2,1,0,0,0, 0,-1,-2,-1,3, 3,1,0,0,0, 0,0,0,0,0],
[0,0,0,0,0, 0,0,0,0,0, 0,0,0,0,1, 2,1,-1,-3,-2, 0,1,3,2,1, 0,0,0,0,0, 0,0,0,0,0, 0,0,0,0,0, 0,0,-1,-2,-2, 3,2,0,0,0, 0,-3,-2,2,2, 1,0,0,0,0, 0,0,0,0,0],
[0,0,0,0,0, 0,0,0,0,0, 0,0,0,0,0, 1,2,1,-1,-3, -2,0,1,3,2, 1,0,0,0,0, 0,0,0,0,0, 0,0,0,0,0, 0,0,0,0,-2, -2,2,3,0,0, -2,-2,1,1,0, 0,0,0,0,0, 0,0,0,0,0],
[0,0,0,0,0, 0,0,0,0,0, 0,0,0,0,0, 0,1,2,1,-1, -3,-2,0,2,4, 1,0,0,0,0, 0,0,0,0,0, 0,0,0,0,0, 0,0,0,0,0, -1,-2,3,1,0, -2,-1,2,1,0, 0,0,0,0,0, 0,0,0,0,0],
[0,0,0,0,0, 0,0,0,0,0, 0,0,0,0,0, 0,0,1,2,1, -1,-3,-2,0,2, 4,1,0,0,0, 0,0,0,0,0, 0,0,0,0,0, 0,0,0,0,0, 0,-1,-2,1,0, 2,1,0,0,0, 0,0,0,0,0, 0,0,0,0,0],
[0,0,0,0,0, 0,0,0,0,0, 0,0,0,0,0, 0,0,0,1,2, 1,-1,-3,-2,0, 2,4,1,0,0, 0,0,0,0,0, 0,0,0,0,0, 0,0,0,0,0, 0,-2,-2,-1,0, 2,1,0,0,0, 0,0,0,0,0, 0,0,0,0,0],
[0,0,0,0,0, 0,0,0,0,0, 0,0,0,0,0, 0,0,0,0,1, 2,1,-1,-3,-2, 0,1,3,2,1, 0,0,0,0,0, 0,0,0,0,0, 0,0,0,0,0, 0,0,-1,-1,0, 0,0,0,0,0, 0,0,0,0,0, 0,0,0,0,0],
[0,0,0,0,0, 0,0,0,0,0, 0,0,0,0,0, 0,0,0,0,0, 1,2,1,-1,-3, -2,0,1,3,3, 1,0,0,0,0, 0,0,0,0,0, 0,0,0,0,0, 0,0,0,0,0, 0,0,0,0,0, 0,0,0,0,0, 0,0,0,0,0],
[0,0,0,0,0, 0,0,0,0,0, 0,0,0,0,0, 0,0,0,0,0, 0,1,3,1,-1, -4,-2,0,1,3, 3,1,0,0,0, 0,0,0,0,0, 0,0,0,0,0, 0,0,0,0,0, 0,0,0,0,0, 0,0,0,0,0, 0,0,0,0,0],
[0,0,0,0,0, 0,0,0,0,0, 0,0,0,0,0, 0,0,0,0,0, 0,0,1,3,1, -1,-4,-2,0,0, 2,3,2,0,0, 0,0,0,0,0, 0,0,0,0,0, 0,0,0,0,0, 0,0,0,0,0, 0,0,0,0,0, 0,0,0,0,0],
[0,0,0,0,0, 0,0,0,0,0, 0,0,0,0,0, 0,0,0,0,0, 0,0,1,3,3, 1,0,-4,-3,0, 1,4,2,0,0, 0,0,0,0,0, 0,0,0,0,0, 0,0,0,0,0, 0,0,0,0,0, 0,0,0,0,0, 0,0,0,0,0],
[0,0,0,0,0, 0,0,0,0,0, 0,0,0,0,0, 0,0,0,0,0, 0,0,0,0,1, 3,2,0,-3,-4, -1,0,4,2,0, 0,0,0,0,0, 0,0,0,0,0, 0,0,0,0,0, 0,0,0,0,0, 0,0,0,0,0, 0,0,0,0,0],
[.5,0,0,0,0, 0,0,-.5,-.5,-.5, -.5,0,0,0,0, 0,0,0,0,0, 0,0,0,0,0, 1,3,2,0,-2, -4,-1,1,3,2, 0,0,0,0,0, 0,0,0,0,0, 0,0,0,0,0, 0,0,0,0,0, 0,0,0,0,0, 0,0,0,0,0],
[.5,0,0,0,0, 0,0,-.5,-.5,-.5, -.5,0,0,0,0, 0,0,0,0,0, 0,0,0,0,0, 0,1,3,2,0, -4,-3,0,1,3, 2,0,0,0,0, 0,0,0,0,0, 0,0,0,0,0, 0,0,0,0,0, 0,0,0,0,0, 0,0,0,0,0],
[.5,0,0,0,0, 0,0,0,0,0, 0,0,0,0,0, 0,.5,.5,0,0, 0,0,0,-1,-2, 0,0,1,3,2, 0,-4,-2,0,1, 2,2,1,0,0, 0,0,0,0,0, 0,0,0,0,0, 0,0,0,0,0, 0,0,0,0,0, 0,0,0,0,0],
[0,0,0,0,0, 0,0,0,0,0, 0,0,0,0,0, 0,.5,.5,0,0, 0,0,0,-2,-2, -1,0,0,1,4, 3,0,-4,-2,0, 1,2,1,0,0, 0,0,0,0,0, 0,0,0,0,0, 0,0,0,0,0, 0,0,0,0,0, 0,0,0,0,0],
[0,0,0,0,0, 0,0,0,0,0, 0,0,0,0,0, 0,.5,.5,0,0, 0,0,0,-2,-2, -1,0,0,0,1, 4,3,0,-4,-2, 0,1,3,2,0, 0,0,0,0,0, 0,0,0,0,0, 0,0,0,0,0, 0,0,0,0,0, 0,0,0,0,0],
[0,0,0,0,0, 0,0,0,0,0, 0,0,0,0,0, 0,0,0,0,0, 0,0,0,-1,-1, 0,0,0,0,0, 1,2,1,-1,-4, -2,0,1,3,1, 0,0,0,0,0, 0,0,0,0,0, 0,0,0,0,0, 0,0,0,0,0, 0,0,0,0,0],
[0,0,0,0,0, 0,0,0,0,0, 0,0,0,0,0, 0,0,0,0,0, 0,0,0,0,0, 0,0,0,0,0, 0,1,2,1,-1, -3,-1,0,1,3, 1,0,0,0,0, 0,0,0,0,0, 0,0,0,0,0, 0,0,0,0,0, 0,0,0,0,0],
[0,0,0,0,0, 0,0,0,0,0, 0,0,0,0,0, 0,0,0,0,0, 0,0,0,0,0, 0,0,0,0,0, 0,0,1,2,1, -1,-2,-1,0,1, 3,1,0,0,0, 0,0,0,0,0, 0,0,0,0,0, 0,0,0,0,0, 0,0,0,0,0],
[0,0,0,0,0, 0,0,0,0,0, 0,0,0,0,0, 0,0,0,0,0, 0,0,0,0,0, 0,0,0,0,-1, -1,-1,-1,1,2, 1,-1,-2,-1,0, 1,3,1,0,0, 0,0,0,0,0, 0,0,0,0,0, 0,0,0,0,0, 0,0,0,0,0],
[0,0,0,0,0, 0,0,0,0,0, 0,0,0,0,0, 0,0,0,0,0, 0,0,0,0,0, 0,0,0,0,-1, -2,-2,-1,0,2, 2,1,-1,-2,-1, 0,2,3,1,0, 0,0,0,0,0, 0,0,0,0,0, 0,0,0,0,0, 0,0,0,0,0],
[0,0,0,0,0, 0,0,0,0,0, 0,0,0,0,0, 0,0,0,0,0, 0,0,0,0,0, 0,0,0,0,-1, -2,-2,-1,0,0, 1,2,1,-1,-2, -1,0,1,3,1, 0,0,0,0,0, 0,0,0,0,0, 0,0,0,0,0, 0,0,0,0,0],
[0,0,0,0,0, 0,0,0,0,0, 0,0,0,0,0, 0,0,0,0,0, 0,0,0,0,0, 0,0,0,0,0, -1,-1,0,0,0, 0,1,2,1,-1, -2,-1,0,2,3, 1,0,0,0,0, 0,0,0,0,0, 0,0,0,0,0, 0,0,0,0,0],
[0,0,0,0,0, 0,0,0,0,0, 0,0,0,0,0, 0,-.5,-.5,0,0, 0,0,0,0,0, .5,.5,.5,0,0, 0,0,0,0,0, 0,0,1,1,0, -1,-2,-1,0,2, 3,1,0,0,0, 0,0,0,0,0, 0,0,0,0,0, 0,0,0,0,0],
[0,0,0,0,0, 0,0,0,0,0, 0,0,0,0,0, 0,-.5,-.5,0,0, 0,0,0,0,0, .5,.5,.5,0,0, 0,0,0,0,0, 0,0,0,0,0, 0,-1,-2,-1,0, 2,3,1,0,0, 0,0,0,0,0, 0,0,0,0,0, 0,0,.5,.5,0],
[0,0,0,0,0, 0,0,0,0,0, 0,0,0,0,0, 0,-.5,-.5,0,0, 0,0,0,0,0, 0,0,0,0,0, 0,0,0,0,0, 0,0,0,0,0, 0,0,-1,-2,-2, 0,1,3,2,0, 0,0,0,0,0, 0,0,0,0,0, 0,0,.5,.5,.5],
[0,0,0,0,0, 0,0,0,0,0, 0,0,0,0,0, 0,0,0,0,0, 0,0,0,0,0, 0,0,0,0,0, 0,0,0,0,0, 0,0,0,0,0, 1,1,0,-1,-2, -2,-1,1,3,2, 0,0,0,0,0, 0,0,0,0,0, 0,0,.5,.5,.5],
[0,0,0,0,0, 0,0,0,0,0, 0,0,0,0,0, 0,0,0,0,0, 0,0,0,0,0, 0,0,0,0,0, 0,0,0,0,0, 0,0,0,0,0, 0,1,1,0,-1, -2,-2,0,2,3, 1,0,0,0,0, 0,0,0,0,0, 0,0,.5,.5,.5],
[0,0,0,0,0, 0,0,0,0,0, 0,0,0,0,0, 0,0,0,0,0, 0,0,0,0,0, 0,0,0,0,0, 0,0,0,0,0, 0,0,0,0,0, 0,0,1,2,1, 0,-1,-2,-2,1, 3,1,0,0,0, 0,0,0,0,0, 0,0,.5,.5,.5],
[0,0,0,0,0, 0,0,0,0,0, 0,0,0,0,0, 0,0,0,0,0, 0,0,0,0,0, 0,0,0,0,0, 0,0,0,0,0, 0,0,0,0,0, 0,0,0,1,2, 1,0,-1,-2,-2, 1,3,1,0,0, 0,0,0,0,0, 0,0,.5,.5,.5],
[0,0,0,0,0, 0,0,0,0,0, 0,0,0,0,0, 0,0,0,0,0, 0,0,0,0,0, 0,0,0,0,0, 0,0,0,0,0, 0,0,0,0,0, 0,0,0,0,1, 2,2,0,-1,-2, -2,1,3,1,0, 0,0,0,0,0, 0,0,.5,.5,.5],
[0,0,0,0,0, 0,0,0,0,0, 0,0,0,0,0, 0,0,0,0,0, 0,0,0,0,0, 0,0,0,0,0, 0,0,0,0,0, 0,0,0,0,0, 0,0,0,0,0, 1,2,2,0,-1, -2,-2,1,3,1, 0,0,0,0,0, 0,0,0,0,0],
[.5,0,0,0,0, 0,0,0,0,0, 0,0,0,0,0, 0,0,0,0,0, 0,0,0,0,0, .5,.5,0,0,0, 0,0,0,0,0, 0,0,0,0,0, 0,0,0,0,0, 0,1,2,1,0, -1,-3,-2,0,3, 1,0,0,0,0, 0,0,0,0,0],
[.5,0,0,0,0, 0,0,0,0,0, 0,0,0,0,0, 0,0,0,0,0, 0,0,0,0,0, .5,.5,.5,0,0, 0,0,0,0,0, 0,0,0,0,0, 0,0,0,0,0, 0,0,1,2,1, 0,-1,-3,-2,2, 3,1,0,0,0, 0,0,0,0,0],
[0,0,0,.5,.5, 0,0,0,0,0, 0,0,0,0,0, 0,.5,.5,.5,0, 0,0,0,0,.5, .5,.5,.5,.5,0, 0,0,0,0,0, 0,0,0,0,0, 0,0,0,0,0, 0,0,0,1,1, 1,0,-2,-3,-1, 2,3,1,0,0, 0,0,0,0,0],
[0,0,0,.5,.5, 0,0,0,0,0, 0,0,0,0,0, 0,.5,.5,.5,0, 0,0,0,0,.5, .5,.5,.5,.5,0, 0,0,0,0,0, 0,0,0,0,0, 0,0,0,0,0, 0,0,0,0,1, 1,1,0,-2,-3, -1,2,3,1,0, 0,0,0,0,0],
[0,0,0,.5,.5, 0,0,0,0,0, 0,0,0,0,0, 0,0,0,0,0, 0,0,0,0,.5, .5,.5,.5,.5,0, 0,0,0,0,0, 0,0,0,0,0, 0,0,0,0,0, 0,0,0,0,0, 1,1,1,-1,-3, -2,0,2,3,1, 0,0,0,0,0],
[0,0,0,0,0, 0,0,0,0,0, 0,0,0,0,0, 0,0,0,0,0, 0,0,0,0,0, .5,.5,.5,0,0, 0,0,0,0,0, 0,0,0,0,0, 0,0,0,0,0, 0,0,0,0,0, 0,1,2,1,-1, -3,-2,0,2,3, 1,0,0,0,0],
[0,0,0,0,0, 0,0,0,0,0, 0,0,0,0,0, 0,0,0,0,0, 0,0,0,0,0, 0,0,0,0,0, 0,0,0,0,0, 0,0,0,0,0, 0,0,0,0,0, 0,0,0,0,0, 0,0,1,2,1, -1,-3,-2,0,2, 4,1,0,0,0],
[0,0,0,0,0, 0,0,0,0,0, 0,0,0,0,0, 0,0,0,0,0, 0,0,0,0,0, 0,0,0,0,0, 0,0,0,0,0, 0,0,0,0,0, 0,0,0,0,0, 0,0,0,0,0, 0,0,0,1,2, 1,-1,-3,-2,0, 1,3,2,0,0],
[.5,0,0,0,0, 0,.5,.5,0,0, 0,0,0,0,0, 0,.5,.5,0,0, 0,0,0,0,0, 0,0,0,0,0, 0,0,0,0,0, 0,0,0,0,0, 0,0,0,0,0, 0,0,0,0,0, 0,0,0,0,0, 2,1,0,-2,-4, -3,0,1,2,1]
];
const colorbarTicks = [5, 2.5, 0, -2.5, -5];
const heatXTicks = [-500, 0, 500];
const heatYTicks = [800, 600, 400, 200, 0, -200, -400, -600, -800];

// ---- Inset density-contour widths around the 1:1 line ----
const insetT = [0, .1, .2, .3, .4, .5, .6, .7, .8, .9, 1];
const insetAUpper = [
[.33,.30,.28,.27,.29,.30,.27,.25,.22,.20,.10],
[.26,.25,.24,.19,.17,.15,.10,.09,.07,.04,0],
[.14,.15,.14,.11,.09,.08,.07,.06,.05,.03,0],
[.05,.07,.07,.06,.055,.05,.04,.035,.03,.02,0],
[.02,.03,.035,.045,.045,.04,.03,.02,.015,.01,0],
[0,.005,.015,.03,.035,.03,.02,.005,0,0,0]
];
const insetALower = [
[-.12,-.14,-.17,-.19,-.22,-.25,-.23,-.25,-.25,-.23,-.225],
[-.05,-.09,-.11,-.14,-.17,-.19,-.20,-.17,-.15,-.13,-.11],
[-.03,-.05,-.07,-.09,-.12,-.13,-.11,-.10,-.10,-.08,-.07],
[-.02,-.03,-.04,-.05,-.06,-.06,-.05,-.05,-.04,-.03,-.02],
[-.01,-.015,-.02,-.035,-.045,-.04,-.03,-.02,-.015,-.01,0],
[0,-.005,-.015,-.03,-.035,-.03,-.02,-.005,0,0,0]
];
const insetBUpper = [
[.05,.07,.08,.08,.07,.065,.06,.06,.05,.04,.03],
[.04,.05,.055,.05,.04,.035,.03,.025,.02,.01,0],
[.02,.03,.03,.03,.025,.02,.02,.015,.01,.01,0],
[.008,.012,.012,.012,.012,.012,.01,.008,.006,.004,0]
];
const insetBLower = [
[-.03,-.05,-.06,-.055,-.05,-.05,-.05,-.05,-.05,-.05,-.04],
[-.02,-.03,-.035,-.035,-.03,-.03,-.025,-.02,-.02,-.015,-.01],
[-.015,-.02,-.025,-.025,-.02,-.02,-.015,-.015,-.01,-.01,0],
[-.008,-.012,-.012,-.012,-.012,-.012,-.01,-.008,-.006,-.004,0]
];
const insetAFills = ['#cfe1f2', '#82bbdb', '#5ba3d0', '#3787c0', '#1764ab', '#08306b'];
const insetBFills = ['#cfe1f2', '#6baed6', '#3787c0', '#1764ab'];

// ---- Panel c values ----
const components = ['xx', 'xy', 'xz', 'yy', 'yz', 'zz'];
const rbfScores = [0.9685, 0.8664, 0.9537, 0.9130, 0.8672, 0.9388];
const enfScores = [0.99444, 0.99136, 0.99348, 0.99343, 0.9927, 0.99237];
const nfScores = [0.99174, 0.98725, 0.9904, 0.98893, 0.98893, 0.98905];
const nfErrors = [0.0032, 0.0053, 0.00395, 0.0038, 0.0038, 0.0039];
const r2Ticks = [1.00, 0.98, 0.96, 0.94, 0.92, 0.90, 0.88];

// ---- Panel d values ----
const epochTicks = [0, 100, 200, 300, 400];
const lossDecades = [-1, 0, 1, 2];
const epochs = [
0,1,2,3,4,5,6,8,10,12,
14,16,18,20,22,25,28,31,34,37,
40,43,46,50,53,56,60,63,66,70,
73,76,80,83,86,90,93,96,100,103,
106,110,113,116,120,123,126,130,133,136,
140,143,146,150,155,160,165,170,175,180,
185,190,195,200,210,220,230,240,250,260,
270,280,290,300,310,320,330,340,350,360,
370,380,390,400];
const lossXX = [
30,50,30,20,14,11,8,6,5,4.2,
4.0,3.6,3.3,3.1,3.0,2.75,2.45,2.35,2.1,2.0,
1.75,1.72,1.72,1.6,1.5,1.48,1.37,1.4,1.33,1.3,
1.28,1.24,1.3,1.25,1.25,1.28,1.4,1.3,1.15,1.08,
1.06,1.03,1.15,1.19,1.1,1.05,1.02,1.05,1.11,1.04,
.98,1.0,.95,.93,.92,.93,.92,.94,.95,.95,
.92,.89,.89,.89,.87,.86,.86,.855,.86,.855,
.855,.855,.85,.835,.84,.835,.835,.835,.83,.83,
.835,.83,.83,.83];
const lossXY = [
28,45,25,16,13,12.8,4.9,5.6,4.8,2.83,
2.9,2.9,2.3,2.0,1.95,1.85,1.8,1.65,1.6,1.6,
1.59,1.59,1.6,1.63,1.64,1.6,1.47,1.47,1.47,1.4,
1.38,1.33,1.33,1.35,1.35,1.28,1.31,1.25,1.12,1.1,
1.07,1.05,1.05,1.04,1.02,1.01,1.01,1.02,.99,.97,
.92,.91,.9,.88,.86,.84,.835,.83,.83,.815,
.81,.8,.785,.77,.75,.745,.735,.73,.72,.715,
.71,.71,.705,.7,.695,.69,.69,.69,.685,.685,
.685,.685,.68,.685];
const lossXZ = [
35,60,40,25,18,12,11,8,6,5.0,
5.1,4.5,4.16,3.9,3.7,3.4,3.2,3.0,2.85,2.8,
2.6,2.35,2.2,2.1,2.05,1.95,1.85,1.83,1.86,1.8,
1.85,1.83,1.78,1.85,1.8,1.72,1.8,1.83,1.62,1.58,
1.55,1.53,1.56,1.59,1.5,1.46,1.44,1.52,1.58,1.48,
1.42,1.44,1.38,1.37,1.35,1.35,1.36,1.34,1.36,1.35,
1.34,1.3,1.31,1.29,1.29,1.29,1.28,1.28,1.27,1.27,
1.27,1.28,1.27,1.26,1.26,1.25,1.25,1.25,1.25,1.245,
1.245,1.245,1.245,1.245];
const lossYY = [
17.7,26,20,14,11,10,6.8,5.6,5.1,4.7,
4.5,4.3,4.1,3.9,3.65,3.3,3.0,2.8,2.65,2.55,
2.4,2.2,2.1,1.95,1.9,1.85,1.83,1.78,1.7,1.66,
1.68,1.6,1.7,1.72,1.6,1.64,1.66,1.62,1.47,1.52,
1.47,1.52,1.48,1.5,1.45,1.42,1.42,1.42,1.4,1.42,
1.36,1.37,1.34,1.33,1.31,1.3,1.29,1.29,1.28,1.28,
1.27,1.25,1.26,1.25,1.24,1.24,1.23,1.23,1.23,1.23,
1.225,1.225,1.22,1.22,1.22,1.22,1.22,1.22,1.22,1.22,
1.22,1.22,1.22,1.22];
const lossYZ = [
39,70,40,28,22,17.7,13,8,6.4,5.0,
4.8,3.8,3.55,3.2,3.1,2.85,2.65,2.5,2.45,2.42,
2.38,2.38,2.42,2.4,2.45,2.3,2.2,2.2,2.12,2.05,
2.04,2.08,2.05,2.0,1.97,1.93,1.88,1.87,1.76,1.7,
1.66,1.62,1.6,1.64,1.6,1.68,1.49,1.5,1.56,1.47,
1.44,1.42,1.4,1.37,1.36,1.35,1.35,1.34,1.33,1.31,
1.3,1.29,1.29,1.28,1.27,1.26,1.25,1.24,1.23,1.22,
1.22,1.21,1.2,1.2,1.2,1.19,1.19,1.19,1.18,1.18,
1.18,1.18,1.18,1.18];
const lossZZ = [
41,281,60,35,25,20,18,12,9,7.2,
7.4,5.7,6,5.4,5.2,4.8,4.5,4.2,3.95,3.75,
3.4,3.05,3.1,3.0,2.85,2.65,2.45,2.52,2.45,2.25,
2.35,2.2,2.5,2.6,2.2,2.7,2.55,2.45,2.15,1.98,
2.08,2.02,2.3,2.0,2.05,1.98,1.95,2.0,2.12,1.96,
2.1,2.05,1.82,1.75,1.67,1.7,1.72,1.62,1.7,1.7,
1.58,1.57,1.6,1.61,1.54,1.6,1.52,1.5,1.54,1.48,
1.48,1.5,1.49,1.47,1.47,1.46,1.47,1.47,1.45,1.44,
1.44,1.45,1.44,1.44];
const epochsL = [
0,1,2,3,4,5,6,7,8,10,
12,14,16,18,20,21,22,23,24,26,
27,29,31,33,35,37,39,41,43,45,
47,49,51,53,55,57,59,61,64,66,
68,70,72,74,76,78,80,82,84,87,
89,92,94,97,100,102,104,106,108,110,
113,114,116,118,120,123,125,127,128,130,
133,135,137,139,141,143,146,149,152,154,
156,158,160,162,164,167,170,173,176,179,
182,185,187,190,194,197,200,202,205,208,
211,213,216,219,221,223,226,229,232,234,
236,239,243,246,249,252,254,257,260,264,
267,271,273,275,278,281,283,285,287,290,
293,296,299,302,305,308,311,312,315,318,
321,324,327,329,332,335,338,340,341,345,
348,352,355,358,360,363,365,367,370,373,
376,379,382,385,388,391,393,396,398,400];
const lossL = [
10,70,38,20,14,10,8,6.5,5.5,4.6,
4.2,3.5,2.9,2.3,1.86,1.5,1.3,1.13,1.45,1.7,
1.64,1.35,1.5,1.13,1.3,1.4,1.53,1.2,1.05,.92,
1.25,1.4,1.9,1.3,1.2,1.11,1.25,1.0,.89,1.05,
1.25,1.05,.85,.95,.8,.67,1.0,1.44,1.0,.835,
1.1,1.59,1.1,.95,.76,.9,1.0,.85,.95,1.1,
.65,1.35,.95,.85,.95,.8,.9,.73,1.35,1.0,
1.2,.95,1.15,.85,.62,1.19,.8,.85,.76,.72,
.59,.68,.62,.72,.76,.65,.6,.49,.78,.72,
.62,.48,.6,.55,.44,.55,.62,.69,.6,.49,
.52,.59,.55,.48,.405,.71,.55,.5,.55,.5,
.46,.47,.42,.37,.42,.51,.42,.4,.37,.30,
.34,.39,.34,.29,.33,.36,.31,.36,.48,.4,
.42,.38,.35,.27,.33,.37,.4,.26,.33,.29,
.34,.35,.3,.25,.28,.27,.3,.22,.39,.33,
.3,.21,.24,.22,.21,.2,.21,.24,.21,.2,
.19,.2,.24,.21,.22,.2,.18,.23,.235,.24];

// ---- Helpers ----
const NS = 'http://www.w3.org/2000/svg';
function mk(parent, tag, attrs) {
  const node = document.createElementNS(NS, tag);
  for (const k in attrs) node.setAttribute(k, attrs[k]);
  parent.appendChild(node);
  return node;
}
const cwStops = [[0,59,76,192],[.143,103,136,238],[.286,154,187,255],[.429,201,215,240],[.5,221,220,220],[.571,237,209,194],[.714,247,168,137],[.857,226,105,82],[1,180,4,38]];
function coolwarm(t) {
  t = Math.max(0, Math.min(1, t));
  for (let i = 1; i < cwStops.length; i++) {
    if (t <= cwStops[i][0]) {
      const a = cwStops[i-1], b = cwStops[i], f = (t - a[0]) / (b[0] - a[0]);
      return 'rgb(' + [1,2,3].map(c => Math.round(a[c] + (b[c] - a[c]) * f)).join(',') + ')';
    }
  }
  return 'rgb(180,4,38)';
}
const heatLimit = 7.25;
const minusSign = v => String(v).replace('-', '\u2212');

// ---- Panels a and b ----
function drawHeatPanel(group, matrix, left, insetLeft, upper, lower, fills, suffix) {
  const xZero = left + 400.6;
  const xHeat = v => xZero + v * 0.4922;
  const yHeat = v => 459.3 - v * 0.4925;
  const cell = 25 * 0.4922;
  const cells = mk(group, 'g', {'shape-rendering': 'crispEdges'});
  
  
  matrix.forEach((row, j) => row.forEach((value, i) => {
    const xc = -800 + 25 * i, yc = 800 - 25 * j;
    const r = mk(cells, 'rect', {x: xHeat(xc) - cell / 2, y: yHeat(yc) - cell / 2, width: cell + 0.6, height: cell + 0.6, fill: coolwarm(0.5 + value * heatUnit / (2 * heatLimit))});
    
    
  }));
  heatYTicks.forEach(v => {
    const dots = mk(group, 'line', {x1: xHeat(-800), x2: xHeat(800), y1: yHeat(v), y2: yHeat(v), stroke: '#222', 'stroke-width': 2.4, 'stroke-dasharray': '2.2 3.8'});
    
    
    const tick = mk(group, 'line', {x1: left - 7, x2: left, y1: yHeat(v), y2: yHeat(v), stroke: '#000', 'stroke-width': 2});
    
    
    const lab = mk(group, 'text', {x: left - 14, y: yHeat(v) + 14, 'text-anchor': 'end', 'font-size': 39.5});
    
    
    lab.textContent = minusSign(v);
  });
  heatXTicks.forEach(v => {
    const tick = mk(group, 'line', {x1: xHeat(v), x2: xHeat(v), y1: 859, y2: 866, stroke: '#000', 'stroke-width': 2});
    
    
    const lab = mk(group, 'text', {x: xHeat(v), y: 905, 'text-anchor': 'middle', 'font-size': 39.5});
    
    
    lab.textContent = minusSign(v);
  });
  const frame = mk(group, 'rect', {x: left, y: 59, width: 800.5, height: 800, fill: 'none', stroke: '#000', 'stroke-width': 2.4});
  
  

  // inset density
  const insetSize = 240, insetTop = 79.3;
  const ix = u => insetLeft + u * insetSize;
  const iy = v => insetTop + insetSize - v * insetSize;
  const inset = mk(group, 'g', {});
  
  
  const halo = mk(inset, 'rect', {x: insetLeft - 2.5, y: insetTop - 2.5, width: insetSize + 5, height: insetSize + 5, fill: '#fff'});
  
  
  const clip = mk(inset, 'clipPath', {id: 'inset-clip-' + suffix});
  mk(clip, 'rect', {x: insetLeft, y: insetTop, width: insetSize, height: insetSize});
  const bands = mk(inset, 'g', {'clip-path': 'url(#inset-clip-' + suffix + ')'});
  
  
  upper.forEach((up, level) => {
    const top = insetT.map((t, k) => ix(t) + ',' + iy(t + up[k]));
    const bottom = insetT.map((t, k) => ix(t) + ',' + iy(t + lower[level][k])).reverse();
    const band = mk(bands, 'polygon', {points: top.concat(bottom).join(' '), fill: fills[level]});
    
    
  });
  const unity = mk(inset, 'line', {x1: ix(0), y1: iy(0), x2: ix(1), y2: iy(1), stroke: '#f00', 'stroke-width': 3.4});
  
  
  const insetFrame = mk(inset, 'rect', {x: insetLeft, y: insetTop, width: insetSize, height: insetSize, fill: 'none', stroke: '#000', 'stroke-width': 2.2});
  
  
}
drawHeatPanel(document.getElementById('panel-a'), heatA, 151.1, 171.3, insetAUpper, insetALower, insetAFills, 'a');
drawHeatPanel(document.getElementById('panel-b'), heatB, 1078.4, 1098.3, insetBUpper, insetBLower, insetBFills, 'b');

// ---- Colorbar ticks ----
const cbGroup = document.getElementById('colorbar');
colorbarTicks.forEach(v => {
  const y = 459 - v * 34.8;
  const tick = mk(cbGroup, 'line', {x1: 1944, x2: 1951, y1: y, y2: y, stroke: '#000', 'stroke-width': 2});
  
  
  const lab = mk(cbGroup, 'text', {x: 1960, y: y + 14, 'font-size': 39});
  
  
  lab.textContent = v.toFixed(1);
});

// ---- Panel c ----
const gc = document.getElementById('panel-c');
const xComp = i => 188 + 145.5 * i;
const yR2 = v => 1057 + (1 - v) * 5935;
r2Ticks.forEach(v => {
  const grid = mk(gc, 'line', {x1: 151, x2: 952, y1: yR2(v), y2: yR2(v), stroke: '#b0b0b0', 'stroke-width': 2.1});
  
  
  const tick = mk(gc, 'line', {x1: 144, x2: 151, y1: yR2(v), y2: yR2(v), stroke: '#000', 'stroke-width': 2});
  
  
  const lab = mk(gc, 'text', {x: 137, y: yR2(v) + 14, 'text-anchor': 'end', 'font-size': 39.5});
  
  
  lab.textContent = v.toFixed(2);
});
components.forEach((c, i) => {
  const grid = mk(gc, 'line', {x1: xComp(i), x2: xComp(i), y1: 1048, y2: 1889, stroke: '#b0b0b0', 'stroke-width': 2.1});
  
  
  const tick = mk(gc, 'line', {x1: xComp(i), x2: xComp(i), y1: 1889, y2: 1896, stroke: '#000', 'stroke-width': 2});
  
  
  const lab = mk(gc, 'text', {x: xComp(i), y: 1933, 'text-anchor': 'middle', 'font-size': 38, 'font-style': 'italic'});
  
  
  lab.textContent = 'H';
  const sub = mk(lab, 'tspan', {'font-size': 27, dy: 7});
  
  
  sub.textContent = c;
});
const scoreLayer = mk(gc, 'g', {'clip-path': 'url(#clip-c)'});


const polyPts = arr => arr.map((v, i) => xComp(i) + ',' + yR2(v)).join(' ');
const nfLine = mk(scoreLayer, 'polyline', {points: polyPts(nfScores), fill: 'none', stroke: '#ff7f0e', 'stroke-width': 3.4, 'stroke-dasharray': '3.4 5.6'});


nfScores.forEach((v, i) => {
  const x = xComp(i), lo = yR2(v - nfErrors[i]), hi = yR2(v + nfErrors[i]);
  const stem = mk(scoreLayer, 'line', {x1: x, x2: x, y1: lo, y2: hi, stroke: '#ff7f0e', 'stroke-width': 2.8});
  
  
  [lo, hi].forEach(y => {
    const cap = mk(scoreLayer, 'line', {x1: x - 13, x2: x + 13, y1: y, y2: y, stroke: '#ff7f0e', 'stroke-width': 2.8});
    
    
  });
  const dot = mk(scoreLayer, 'circle', {cx: x, cy: yR2(v), r: 8, fill: '#ff7f0e'});
  
  
});
const rbfLine = mk(scoreLayer, 'polyline', {points: polyPts(rbfScores), fill: 'none', stroke: '#1f77b4', 'stroke-width': 3.4});


rbfScores.forEach((v, i) => {
  const sq = mk(scoreLayer, 'rect', {x: xComp(i) - 8, y: yR2(v) - 8, width: 16, height: 16, fill: '#1f77b4'});
  
  
});
const enfLine = mk(scoreLayer, 'polyline', {points: polyPts(enfScores), fill: 'none', stroke: '#800080', 'stroke-width': 3.4});


enfScores.forEach((v, i) => {
  const x = xComp(i), y = yR2(v);
  const dm = mk(scoreLayer, 'polygon', {points: [x, y - 10.5, x + 10, y, x, y + 10.5, x - 10, y].join(' '), fill: '#800080'});
  
  
});
const frameC = mk(gc, 'rect', {x: 151, y: 1048, width: 801, height: 841, fill: 'none', stroke: '#000', 'stroke-width': 2.4});



// ---- Panel d ----
const gd = document.getElementById('panel-d');
const xEpoch = e => 1114.6 + 1.824 * e;
const yLoss = v => 1671.3 - 239 * Math.log10(v);
const lossLayer = mk(gd, 'g', {'clip-path': 'url(#clip-d)', fill: 'none'});


function lossLine(xs, ys, color, name, dash) {
  const pts = xs.map((e, i) => xEpoch(e) + ',' + yLoss(ys[i])).join(' ');
  const line = mk(lossLayer, 'polyline', {points: pts, stroke: color, 'stroke-width': dash ? 3.6 : 3.5, 'stroke-linejoin': 'round'});
  if (dash) line.setAttribute('stroke-dasharray', dash);
  
  
}
lossLine(epochs, lossXX, '#1f77b4', 'loss-xx-line');
lossLine(epochs, lossXY, '#ff7f0e', 'loss-xy-line');
lossLine(epochs, lossXZ, '#2ca02c', 'loss-xz-line');
lossLine(epochs, lossYY, '#d62728', 'loss-yy-line');
lossLine(epochs, lossYZ, '#9467bd', 'loss-yz-line');
lossLine(epochs, lossZZ, '#8c564b', 'loss-zz-line');
lossLine(epochsL, lossL, '#e377c2', 'loss-l-line', '3.4 5.6');
epochTicks.forEach(e => {
  const tick = mk(gd, 'line', {x1: xEpoch(e), x2: xEpoch(e), y1: 1889, y2: 1896, stroke: '#000', 'stroke-width': 2});
  
  
  const lab = mk(gd, 'text', {x: xEpoch(e), y: 1933, 'text-anchor': 'middle', 'font-size': 39.5});
  
  
  lab.textContent = e;
});
lossDecades.forEach(d => {
  const base = Math.pow(10, d);
  if (d >= 0) {
    const tick = mk(gd, 'line', {x1: 1071, x2: 1078, y1: yLoss(base), y2: yLoss(base), stroke: '#000', 'stroke-width': 2});
    
    
    const lab = mk(gd, 'text', {x: 1064, y: yLoss(base) + 14, 'text-anchor': 'end', 'font-size': 39.5});
    
    
    lab.textContent = '10';
    const sup = mk(lab, 'tspan', {'font-size': 28, dy: -15});
    
    
    sup.textContent = d;
  }
  for (let m = 2; m <= 9; m++) {
    const y = yLoss(m * base);
    if (y < 1048 || y > 1889) continue;
    const minor = mk(gd, 'line', {x1: 1074, x2: 1078, y1: y, y2: y, stroke: '#000', 'stroke-width': 1.5});
    
    
  }
});
const frameD = mk(gd, 'rect', {x: 1078, y: 1048, width: 800.4, height: 841, fill: 'none', stroke: '#000', 'stroke-width': 2.4});


</script>
</body>
</html>
